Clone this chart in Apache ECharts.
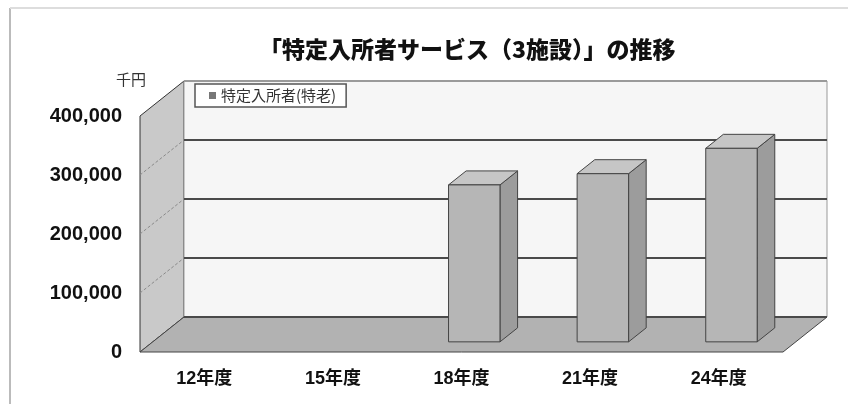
<!DOCTYPE html>
<html>
<head>
    <meta charset="utf-8">
    <title>特定入所者サービス（3施設）の推移</title>
    <script src="https://cdn.jsdelivr.net/npm/echarts@6/dist/echarts.min.js"></script>
    <style>
        * {
            margin: 0;
            padding: 0;
        }
        #main {
            width: 848px;
            height: 404px;
            background: #fff;
        }
    </style>
</head>
<body>
<div id="main"></div>
<script>
    // データ（千円）
    var years = ['12年度', '15年度', '18年度', '21年度', '24年度'];
    var tokurou = [null, null, 266000, 285000, 328000];
    var yTicks = [0, 100000, 200000, 300000, 400000];
    var seriesName = '特定入所者(特老)';

    // 奥行き（3D風）
    var DX = 44, DY = -35;
    var FONT = '"Liberation Sans", Arial, "Noto Sans CJK JP", sans-serif';

    var chart = echarts.init(document.getElementById('main'));

    // 壁・床・目盛線
    function renderWalls(params, api) {
        var band = api.size([1, 0])[0];
        var x0 = api.coord([0, 0])[0] - band / 2;
        var x1 = api.coord([years.length - 1, 0])[0] + band / 2;
        var y0 = api.coord([0, 0])[1];
        var yTop = api.coord([0, yTicks[yTicks.length - 1]])[1];
        var kids = [];
        // 左の壁
        kids.push({
            type: 'polygon',
            shape: {points: [[x0, y0], [x0, yTop], [x0 + DX, yTop + DY], [x0 + DX, y0 + DY]]},
            style: {fill: '#c9c9c9', stroke: '#333', lineWidth: 1}
        });
        // 奥の壁
        kids.push({
            type: 'rect',
            shape: {x: x0 + DX, y: yTop + DY, width: x1 - x0, height: y0 - yTop},
            style: {fill: '#f6f6f6', stroke: '#999', lineWidth: 1}
        });
        // 床
        kids.push({
            type: 'polygon',
            shape: {points: [[x0, y0], [x1, y0], [x1 + DX, y0 + DY], [x0 + DX, y0 + DY]]},
            style: {fill: '#b2b2b2', stroke: '#444', lineWidth: 1}
        });
        for (var i = 0; i < yTicks.length; i++) {
            var y = api.coord([0, yTicks[i]])[1];
            var last = i === yTicks.length - 1;
            kids.push({
                type: 'line',
                shape: {x1: x0 + DX, y1: y + DY, x2: x1 + DX, y2: y + DY},
                style: {stroke: last ? '#9a9a9a' : '#4a4a4a', lineWidth: 2}
            });
            if (i > 0 && !last) {
                kids.push({
                    type: 'line',
                    shape: {x1: x0, y1: y, x2: x0 + DX, y2: y + DY},
                    style: {stroke: '#8a8a8a', lineWidth: 1, lineDash: [3, 2]}
                });
            }
        }
        return {type: 'group', children: kids};
    }

    // 3D風の棒
    function renderBar(params, api) {
        var v = api.value(1);
        if (v == null || isNaN(v)) return;
        var band = api.size([1, 0])[0];
        var base = api.coord([api.value(0), 0]);
        var top = api.coord([api.value(0), v]);
        var w = band * 0.4;
        var f = 0.29, b = 0.69;
        var xl = base[0] - w / 2 + f * DX, xr = xl + w;
        var yb = base[1] + f * DY, yt = top[1] + f * DY;
        var ox = (b - f) * DX, oy = (b - f) * DY;
        return {
            type: 'group',
            children: [
                {
                    type: 'polygon',
                    shape: {points: [[xr, yb], [xr, yt], [xr + ox, yt + oy], [xr + ox, yb + oy]]},
                    style: {fill: '#9c9c9c', stroke: '#444', lineWidth: 1}
                },
                {
                    type: 'polygon',
                    shape: {points: [[xl, yt], [xr, yt], [xr + ox, yt + oy], [xl + ox, yt + oy]]},
                    style: {fill: '#c6c6c6', stroke: '#444', lineWidth: 1}
                },
                {
                    type: 'rect',
                    shape: {x: xl, y: yt, width: w, height: yb - yt},
                    style: {fill: '#b6b6b6', stroke: '#444', lineWidth: 1}
                }
            ]
        };
    }

    var option = {
        animation: false,
        backgroundColor: '#fff',
        title: {
            text: '「特定入所者サービス（3施設）」の推移',
            left: 254,
            top: 33,
            textStyle: {
                fontFamily: '"Noto Sans CJK JP", sans-serif',
                fontSize: 23,
                fontWeight: 900,
                color: '#111'
            }
        },
        legend: {
            data: [{name: seriesName, icon: 'rect', itemStyle: {color: '#777'}}],
            left: 195,
            top: 84,
            padding: [4, 10, 4, 14],
            itemWidth: 7,
            itemHeight: 7,
            itemGap: 4,
            backgroundColor: '#fff',
            borderColor: '#555',
            borderWidth: 1.5,
            textStyle: {
                fontFamily: '"Noto Sans CJK JP", sans-serif',
                fontSize: 15,
                color: '#333'
            }
        },
        graphic: [
            {type: 'line', shape: {x1: 10, y1: 8, x2: 10, y2: 404}, style: {stroke: '#bbb', lineWidth: 2}},
            {type: 'line', shape: {x1: 10, y1: 8, x2: 848, y2: 8}, style: {stroke: '#ddd', lineWidth: 2}},
            {
                type: 'text', left: 116, top: 72,
                style: {text: '千円', fontSize: 15, fill: '#333', fontFamily: '"Noto Sans CJK JP", sans-serif'}
            }
        ],
        grid: {
            left: 140,
            right: 65,
            top: 116,
            bottom: 52
        },
        xAxis: {
            type: 'category',
            data: years,
            axisLine: {show: false},
            axisTick: {show: false},
            axisLabel: {
                margin: 18,
                fontSize: 18,
                fontWeight: 'bold',
                color: '#111',
                fontFamily: FONT
            }
        },
        yAxis: {
            type: 'value',
            min: 0,
            max: 400000,
            interval: 100000,
            axisLine: {show: false},
            axisTick: {show: false},
            splitLine: {show: false},
            axisLabel: {
                margin: 18,
                fontSize: 20,
                fontWeight: 'bold',
                color: '#111',
                fontFamily: FONT,
                formatter: function (v) { return v.toLocaleString('en-US'); }
            }
        },
        series: [
            {
                type: 'custom',
                name: 'walls',
                silent: true,
                renderItem: renderWalls,
                data: [[0, 0]],
                z: 1
            },
            {
                type: 'custom',
                name: seriesName,
                itemStyle: {color: '#b6b6b6'},
                renderItem: renderBar,
                encode: {x: 0, y: 1},
                data: years.map(function (y, i) { return [i, tokurou[i]]; }),
                z: 2
            }
        ]
    };
    chart.setOption(option);
</script>
</body>
</html>
